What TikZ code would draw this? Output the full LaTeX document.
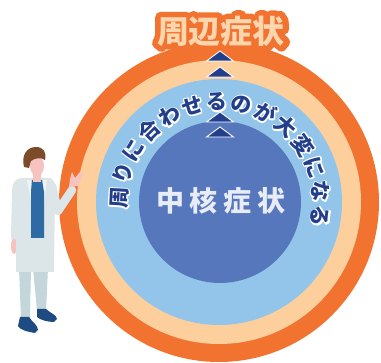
\documentclass[tikz,border=0pt]{standalone}
\usepackage{fontspec}
\newfontfamily\jp{Noto Sans CJK JP}
\definecolor{ringorange}{HTML}{F2722F}
\definecolor{ringpeach}{HTML}{FDCF9D}
\definecolor{ringsky}{HTML}{92C5E9}
\definecolor{coreblue}{HTML}{5677BC}
\definecolor{navy}{HTML}{233F8C}
\definecolor{titlefill}{HTML}{FED6AE}
\definecolor{corewhite}{HTML}{E8ECF7}
\definecolor{hair}{HTML}{7B4B2A}
\definecolor{skin}{HTML}{F6C3C0}
\definecolor{coat}{HTML}{DCE5E7}
\definecolor{lapel}{HTML}{EEF3F4}
\definecolor{shirt}{HTML}{2E6BA5}
\definecolor{pants}{HTML}{C3D7DB}
\definecolor{shoe}{HTML}{1D4B82}
% glyphs filled and stroked in the current colour, round joins
\newcommand{\rimtext}[2]{\special{pdf:literal direct 2 Tr #1 w 1 j 1 J}#2\special{pdf:literal direct 0 Tr}}
\begin{document}
\begin{tikzpicture}[x=1pt, y=-1pt,
    titlefont/.style={font=\jp\bfseries\fontsize{32}{32}\selectfont, inner sep=0pt},
    bendfont/.style={font=\jp\bfseries\fontsize{21}{21}\selectfont, inner sep=0pt},
    innerfont/.style={font=\jp\bfseries\fontsize{28}{28}\selectfont, inner sep=0pt, text=corewhite},
    arrowhead/.style={fill=navy, draw=white, line width=0.9pt}]
    \useasboundingbox (0,0) rectangle (381,363);
    % rings
    \fill[ringorange] (219,202) circle (160);
    \fill[ringpeach] (219,202) circle (142);
    \fill[ringsky] (219,202) circle (123);
    \fill[coreblue] (220,202) circle (81);
    % heading with a fat orange rim
    \node[titlefont, text=ringorange] (titlerim) at (221,31) {\rimtext{11}{周辺症状}};
    \node[titlefont, text=titlefill] (title) at (221,31) {周辺症状};
    % arrow heads
    \foreach \y in {51,67,112,127}
        \draw[arrowhead] (206.5,\y+10) -- (220,\y) -- (233.5,\y+10) -- cycle;
    % text round the core
    \foreach \ch [count=\i from 0] in {周,り,に,合,わ,せ,る,の,が,大,変,に,な,る} {
        \pgfmathsetmacro\ang{177-14.2*\i}
        \node[bendfont, text=white, rotate=\ang-90] (rim\i)
            at ({220+101*cos(\ang)},{203-101*sin(\ang)}) {\rimtext{2.8}{\ch}};
        \node[bendfont, text=navy, rotate=\ang-90] (ch\i)
            at ({220+101*cos(\ang)},{203-101*sin(\ang)}) {\ch};
    }
    \node[innerfont] (core) at (221,201) {中\kern6pt 核\kern6pt 症\kern6pt 状};
    % doctor
    \fill[pants] (19,268) -- (31,268) -- (30,319) -- (21,319) -- cycle;
    \fill[pants] (33,268) -- (48,268) -- (46,311) -- (37,311) -- cycle;
    \fill[shoe] (20,317) -- (29,317) .. controls (32,322) and (38,325) .. (38,330)
        -- (35,333) .. controls (28,332) and (20,330) .. (18,326) -- cycle;
    \fill[shoe] (37,309) -- (46,309) .. controls (50,313) and (57,315) .. (57,319)
        -- (54,322) .. controls (48,322) and (40,320) .. (37,317) -- cycle;
    \fill[skin] (14,246) ellipse (3 and 8);
    \fill[coat] (21,178) -- (51,178) .. controls (54,180) and (55,183) .. (55,188)
        -- (54,272) -- (16,272) -- (16,239) -- (11,239) -- (12,190)
        .. controls (12,183) and (16,179) .. (21,178) -- cycle;
    \draw[coat, line width=8.5pt, line join=round, line cap=round] (52,186) -- (58,211) -- (72,190);
    \fill[skin] (69,187) -- (70,179) -- (72,172) -- (75,178) -- (80,172) -- (83,175)
        -- (78,186) -- cycle;
    \fill[lapel] (27,180) -- (31,180) -- (33,214) -- cycle;
    \fill[lapel] (43,180) -- (47,180) -- (43,214) -- cycle;
    \fill[shirt] (32,180) -- (42,180) -- (44,192) -- (44,238) -- (31,238) -- (31,192) -- cycle;
    \fill[skin] (33,170) rectangle (41,182);
    \fill[skin] (37,166) ellipse (7 and 10);
    \fill[hair] (24,167) .. controls (21,155) and (27,147) .. (36,147)
        .. controls (43,147) and (47,152) .. (45,160)
        .. controls (41,157) and (35,158) .. (31,161) -- (29,168) -- cycle;
\end{tikzpicture}
\end{document}
